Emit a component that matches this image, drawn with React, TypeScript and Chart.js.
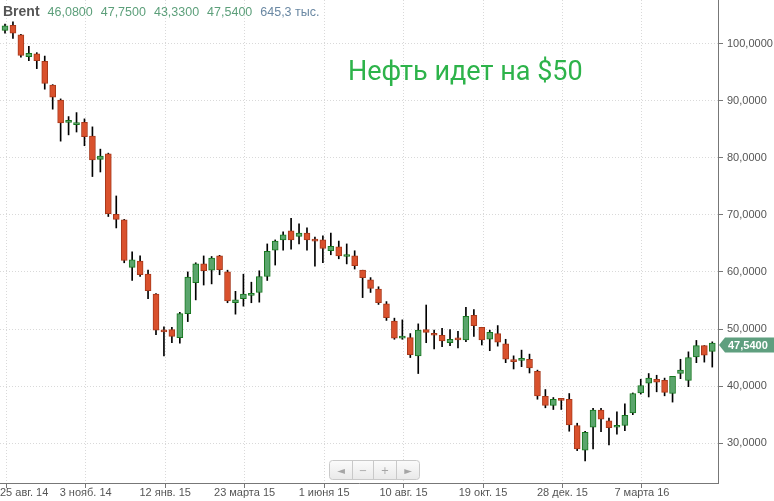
import React, { useEffect, useRef } from 'react';
import { Chart, registerables } from 'chart.js';

Chart.register(...registerables);

// Weekly Brent candles (index 0 = week of 25 Aug 2014)
const opens = [
  102.3, 103.2, 101.5, 97.7, 98.2, 96.9, 92.7, 90.1, 86.2, 85.8,
  86.2, 83.8, 79.7, 80.7, 70.1, 69.1, 60.8, 61.9, 59.6, 56.1,
  49.8, 49.9, 48.5, 52.7, 58.1, 61.4, 60.3, 62.8, 60.0, 54.6,
  55.3, 55.9, 56.4, 59.2, 63.8, 65.6, 67.2, 66.2, 66.8, 65.6,
  65.6, 63.7, 64.4, 62.7, 62.8, 60.3, 58.6, 57.0, 54.4, 51.4,
  48.4, 48.5, 45.3, 49.9, 49.1, 48.9, 47.6, 48.3, 48.1, 52.4,
  50.3, 48.2, 49.2, 47.4, 44.5, 44.5, 44.7, 42.6, 38.2, 36.6,
  37.7, 37.7, 33.1, 28.8, 32.8, 35.8, 33.9, 32.8, 33.1, 35.3,
  38.8, 40.5, 41.2, 41.0, 38.7, 42.2, 41.0, 45.1, 47.1, 46.08,
];
const highs = [
  103.4, 103.8, 101.6, 99.5, 98.4, 97.8, 92.8, 90.3, 87.2, 87.9,
  86.8, 85.4, 81.5, 80.8, 73.3, 69.2, 63.5, 62.8, 60.3, 56.2,
  50.4, 50.3, 52.9, 60.0, 61.6, 62.8, 62.7, 62.9, 60.3, 56.6,
  59.6, 58.2, 60.2, 64.9, 65.6, 67.0, 69.4, 68.4, 67.7, 66.1,
  66.3, 66.8, 65.4, 64.9, 63.7, 60.3, 59.0, 57.4, 54.8, 51.9,
  51.6, 49.2, 50.9, 54.2, 49.8, 50.1, 49.9, 49.6, 53.8, 53.4,
  50.3, 49.8, 50.6, 48.2, 45.3, 46.3, 45.6, 42.8, 39.4, 38.0,
  37.7, 38.7, 33.5, 32.1, 36.1, 36.1, 34.4, 35.5, 36.9, 38.8,
  41.2, 42.2, 41.9, 41.4, 41.7, 44.7, 46.0, 48.0, 47.1, 47.75,
];
const lows = [
  101.8, 100.9, 97.6, 97.0, 95.6, 92.0, 88.5, 82.9, 84.0, 84.5,
  82.1, 76.7, 77.5, 69.7, 67.7, 61.6, 58.5, 59.2, 55.3, 49.0,
  45.3, 47.6, 47.5, 51.3, 55.1, 57.7, 57.9, 59.5, 54.6, 52.6,
  54.0, 54.6, 54.7, 58.5, 61.2, 63.8, 64.0, 64.9, 63.8, 61.0,
  61.6, 63.0, 62.3, 61.4, 60.5, 55.5, 56.4, 54.3, 51.5, 48.2,
  48.2, 45.0, 42.2, 47.6, 46.5, 46.9, 47.1, 46.7, 47.8, 48.7,
  47.2, 46.2, 47.0, 44.1, 43.0, 43.4, 42.3, 37.7, 36.2, 35.9,
  35.9, 32.1, 28.7, 26.9, 29.0, 32.0, 29.7, 31.6, 32.2, 35.0,
  38.6, 38.1, 39.0, 38.3, 37.2, 41.3, 39.9, 44.1, 44.2, 43.33,
];
const closes = [
  103.1, 101.8, 97.9, 98.3, 97.0, 93.0, 90.6, 86.1, 86.4, 85.9,
  83.7, 79.6, 80.3, 70.2, 69.2, 62.0, 62.1, 59.5, 56.7, 49.8,
  49.5, 48.7, 52.7, 59.1, 61.4, 60.2, 62.4, 60.4, 54.9, 55.1,
  56.1, 56.0, 59.2, 63.6, 65.4, 66.5, 65.6, 66.8, 65.6, 65.4,
  64.1, 64.5, 62.8, 62.9, 61.1, 59.0, 57.1, 54.6, 52.0, 48.4,
  48.6, 45.5, 49.8, 49.4, 48.9, 47.9, 48.2, 48.1, 52.2, 50.6,
  48.1, 49.4, 47.7, 44.7, 44.3, 44.7, 43.2, 38.3, 36.6, 37.7,
  37.5, 33.2, 29.0, 31.9, 35.8, 34.2, 32.7, 33.0, 34.9, 38.7,
  40.1, 41.4, 40.7, 38.9, 41.7, 42.8, 45.0, 47.1, 45.4, 47.54,
];

const xTickIndices = [0, 10, 20, 30, 40, 50, 60, 70, 80];
const xTickLabels = [
  '25 авг. 14', '3 нояб. 14', '12 янв. 15', '23 марта 15', '1 июня 15',
  '10 авг. 15', '19 окт. 15', '28 дек. 15', '7 марта 16',
];
const yTickValues = [30, 40, 50, 60, 70, 80, 90, 100];

const headerName = 'Brent';
const headerOHLC = [46.08, 47.75, 43.33, 47.54];
const headerVolume = '645,3 тыс.';
const annotationText = 'Нефть идет на $50';
const navButtons = ['◄', '−', '+', '►'];

const GREEN_FILL = '#5aa56c';
const GREEN_EDGE = '#17771f';
const RED_FILL = '#d9512d';
const RED_EDGE = '#a8391b';

const fmt = (v: number) => v.toFixed(4).replace('.', ',');

const overlayPlugin = {
  id: 'overlay',
  afterDraw(chart: any) {
    const { ctx } = chart;
    const xs = chart.scales.x;
    const ys = chart.scales.y;
    ctx.save();

    // x-axis labels
    ctx.font = '11px "Liberation Sans", Arial, sans-serif';
    ctx.fillStyle = '#555';
    ctx.textBaseline = 'middle';
    ctx.textAlign = 'left';
    xs.ticks.forEach((t: any, i: number) => {
      const label = xTickLabels[i];
      const px = xs.getPixelForValue(t.value);
      const w = ctx.measureText(label).width;
      let left = px - w / 2;
      if (left < 0) left = 0;
      ctx.fillText(label, left, xs.top + 10);
    });

    // header
    ctx.textBaseline = 'alphabetic';
    let hx = 3;
    ctx.font = 'bold 14px "Liberation Sans", Arial, sans-serif';
    ctx.fillStyle = '#555';
    ctx.fillText(headerName, hx, 16);
    hx += ctx.measureText(headerName).width + 8;
    ctx.font = '12.5px "Liberation Sans", Arial, sans-serif';
    ctx.fillStyle = '#5c9f7a';
    headerOHLC.forEach((v) => {
      const s = fmt(v);
      ctx.fillText(s, hx, 16);
      hx += ctx.measureText(s).width + 8;
    });
    ctx.fillStyle = '#6a88a3';
    ctx.fillText(headerVolume, hx, 16);

    // annotation
    ctx.font = '27px Roboto, "Liberation Sans", sans-serif';
    ctx.fillStyle = '#2db34a';
    ctx.fillText(annotationText, 348, 80);

    // last price badge
    const last = closes[closes.length - 1];
    const yc = ys.getPixelForValue(last) + 2;
    const bx = ys.left + 1;
    ctx.fillStyle = '#5f9f7f';
    ctx.beginPath();
    ctx.moveTo(bx, yc);
    ctx.lineTo(bx + 6, yc - 7.5);
    ctx.lineTo(chart.width, yc - 7.5);
    ctx.lineTo(chart.width, yc + 7.5);
    ctx.lineTo(bx + 6, yc + 7.5);
    ctx.closePath();
    ctx.fill();
    ctx.font = 'bold 11px "Liberation Sans", Arial, sans-serif';
    ctx.fillStyle = '#ffffff';
    ctx.textBaseline = 'middle';
    ctx.fillText(fmt(last), bx + 9, yc + 0.5);

    // navigation buttons
    const nx = 329.5, ny = 460.5, nw = 90, nh = 19;
    const grad = ctx.createLinearGradient(0, ny, 0, ny + nh);
    grad.addColorStop(0, '#fbfbfb');
    grad.addColorStop(1, '#e9e9e9');
    ctx.fillStyle = grad;
    ctx.strokeStyle = '#c9c9c9';
    ctx.lineWidth = 1;
    ctx.beginPath();
    ctx.roundRect(nx, ny, nw, nh, 3);
    ctx.fill();
    ctx.stroke();
    const seps = [352.5, 373.5, 396.5];
    seps.forEach((sx) => {
      ctx.beginPath();
      ctx.moveTo(sx, ny);
      ctx.lineTo(sx, ny + nh);
      ctx.stroke();
    });
    const centers = [341, 363, 385, 408];
    ctx.fillStyle = '#a5a5a5';
    ctx.textAlign = 'center';
    ctx.font = '10px "DejaVu Sans", sans-serif';
    navButtons.forEach((b, i) => {
      ctx.fillText(b, centers[i], ny + nh / 2 + 1);
    });

    ctx.restore();
  },
};

export default function App() {
  const canvasRef = useRef<HTMLCanvasElement | null>(null);

  useEffect(() => {
    const canvas = canvasRef.current;
    if (!canvas) return;
    const isUp = (i: number) => closes[i] >= opens[i];
    const bodyData = opens.map((o, i) => ({ x: i, y: [o, closes[i]] }));
    const wickData = lows.map((l, i) => ({ x: i, y: [l, highs[i]] }));

    const chart = new Chart(canvas, {
      type: 'bar',
      data: {
        datasets: [
          {
            data: bodyData as any,
            grouped: false,
            barThickness: 6,
            minBarLength: 2,
            borderWidth: 1,
            borderSkipped: false,
            backgroundColor: (c: any) => (isUp(c.dataIndex) ? GREEN_FILL : RED_FILL),
            borderColor: (c: any) => (isUp(c.dataIndex) ? GREEN_EDGE : RED_EDGE),
            order: 0,
          } as any,
          {
            data: wickData as any,
            grouped: false,
            barThickness: 1,
            backgroundColor: '#000000',
            borderWidth: 0,
            order: 1,
          } as any,
        ],
      },
      options: {
        animation: false,
        responsive: false,
        maintainAspectRatio: false,
        events: [],
        layout: { padding: 0 },
        plugins: { legend: { display: false }, tooltip: { enabled: false } },
        scales: {
          x: {
            type: 'linear',
            position: 'bottom',
            min: -0.63,
            max: 89.72,
            offset: false,
            afterBuildTicks: (s: any) => {
              s.ticks = xTickIndices.map((v) => ({ value: v + 0.15 }));
            },
            ticks: { display: false },
            grid: {
              offset: false,
              color: '#d9d9d9',
              tickColor: '#777777',
              tickLength: 5,
              tickBorderDash: [],
            },
            border: { display: true, color: '#777777', dash: [1, 2] },
            afterFit: (s: any) => {
              s.height = 18;
              s.paddingLeft = 0;
              s.paddingRight = 0;
            },
          } as any,
          y: {
            type: 'linear',
            position: 'right',
            min: 23.03,
            max: 107.62,
            afterBuildTicks: (s: any) => {
              s.ticks = yTickValues.map((v) => ({ value: v }));
            },
            ticks: {
              callback: (v: any) => fmt(Number(v)),
              font: { size: 11, family: '"Liberation Sans", Arial, sans-serif' },
              color: '#555555',
              padding: 4,
            },
            grid: {
              color: '#d9d9d9',
              tickColor: '#777777',
              tickLength: 5,
              tickBorderDash: [],
            },
            border: { display: true, color: '#777777', dash: [1, 2] },
            afterFit: (s: any) => {
              s.width = 56;
              s.paddingTop = 0;
              s.paddingBottom = 0;
            },
          } as any,
        },
      },
      plugins: [overlayPlugin],
    });
    return () => chart.destroy();
  }, []);

  return (
    <div style={{ position: 'absolute', left: 0, top: 0, width: 774, height: 501, background: '#fff' }}>
      <canvas ref={canvasRef} width={774} height={501} style={{ display: 'block' }} />
    </div>
  );
}
